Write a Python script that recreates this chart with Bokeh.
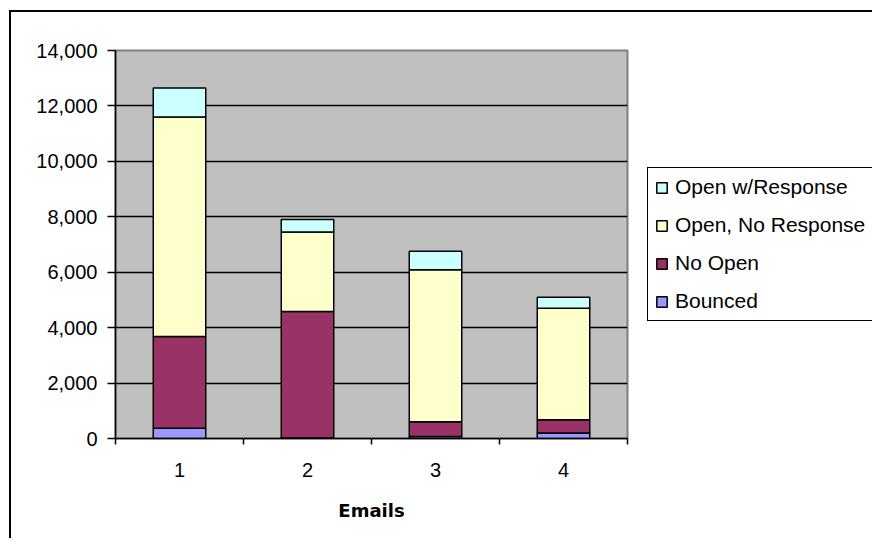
from bokeh.plotting import figure
from bokeh.models import (Range1d, FixedTicker, NumeralTickFormatter, Legend, LegendItem)
from bokeh.embed import file_html
from bokeh.resources import INLINE

emails = [1, 2, 3, 4]
bounced = [370, 20, 70, 200]
no_open = [3310, 4560, 530, 480]
open_no_response = [7920, 2870, 5490, 4020]
open_w_response = [1050, 450, 670, 400]

series_names = ["Bounced", "No Open", "Open, No Response", "Open w/Response"]
series_keys = ["bounced", "no_open", "open_no_response", "open_w_response"]
series_colors = ["#9999FF", "#993366", "#FFFFCC", "#CCFFFF"]
y_ticks = [0, 2000, 4000, 6000, 8000, 10000, 12000, 14000]
x_boundaries = [0.5, 1.5, 2.5, 3.5, 4.5]

data = dict(x=emails, bounced=bounced, no_open=no_open,
            open_no_response=open_no_response, open_w_response=open_w_response)

p = figure(frame_width=512, frame_height=388,
           min_border_left=104, min_border_top=38, min_border_right=270, min_border_bottom=100,
           x_range=Range1d(0.5, 4.5), y_range=Range1d(0, 14000),
           output_backend="svg", toolbar_location=None, tools="")
p.margin = (0, 0, 0, 0)
p.styles = {"border-left": "2px solid black", "border-top": "2px solid black",
            "margin-left": "9px", "margin-top": "10px"}

p.background_fill_color = "#C0C0C0"
p.border_fill_color = "white"
p.outline_line_color = "#808080"
p.outline_line_width = 2

renderers = p.vbar_stack(series_keys, x="x", width=0.41, source=data,
                         fill_color=series_colors, line_color="black", line_width=1.5)

# Y axis
p.yaxis.ticker = FixedTicker(ticks=y_ticks)
p.yaxis.formatter = NumeralTickFormatter(format="0,0")
p.yaxis.major_tick_out = 8
p.yaxis.major_tick_in = 0
p.yaxis.minor_tick_out = 0
p.yaxis.minor_tick_in = 0
p.yaxis.major_label_standoff = 10
p.yaxis.major_label_text_font = "Liberation Sans"
p.yaxis.major_label_text_font_size = "20px"
p.yaxis.major_label_text_color = "black"
p.yaxis.axis_line_color = "black"
p.yaxis.axis_line_width = 1.5
p.yaxis.major_tick_line_color = "black"
p.yaxis.major_tick_line_width = 1.5

# X axis
p.xaxis.ticker = FixedTicker(ticks=emails, minor_ticks=x_boundaries)
p.xaxis.major_tick_out = 0
p.xaxis.major_tick_in = 0
p.xaxis.minor_tick_out = 6
p.xaxis.minor_tick_in = 0
p.xaxis.minor_tick_line_color = "black"
p.xaxis.minor_tick_line_width = 1.5
p.xaxis.major_label_standoff = 18
p.xaxis.major_label_text_font = "Liberation Sans"
p.xaxis.major_label_text_font_size = "20px"
p.xaxis.major_label_text_color = "black"
p.xaxis.axis_line_color = "black"
p.xaxis.axis_line_width = 1.5
p.xaxis.axis_label = "Emails"
p.xaxis.axis_label_text_font = "DejaVu Sans"
p.xaxis.axis_label_text_font_style = "bold"
p.xaxis.axis_label_text_font_size = "18px"
p.xaxis.axis_label_text_color = "black"
p.xaxis.axis_label_standoff = 20

# Grid
p.xgrid.grid_line_color = None
p.ygrid.ticker = FixedTicker(ticks=y_ticks[1:-1])
p.ygrid.grid_line_color = "black"
p.ygrid.grid_line_width = 1.5

# Legend (top to bottom: reverse of stack order)
items = [LegendItem(label=series_names[i], renderers=[renderers[i]]) for i in [3, 2, 1, 0]]
legend = Legend(items=items, location=(20, 117), orientation="vertical",
                border_line_color="black", border_line_width=1.5, border_line_alpha=1,
                background_fill_color="white", background_fill_alpha=1,
                label_text_font="Liberation Sans", label_text_font_size="21px",
                label_text_color="black",
                glyph_width=13, glyph_height=13, label_standoff=7,
                label_height=24, label_width=215, spacing=14, padding=7, margin=0)
p.add_layout(legend, "right")

open("out.html", "w").write(file_html(p, INLINE))
